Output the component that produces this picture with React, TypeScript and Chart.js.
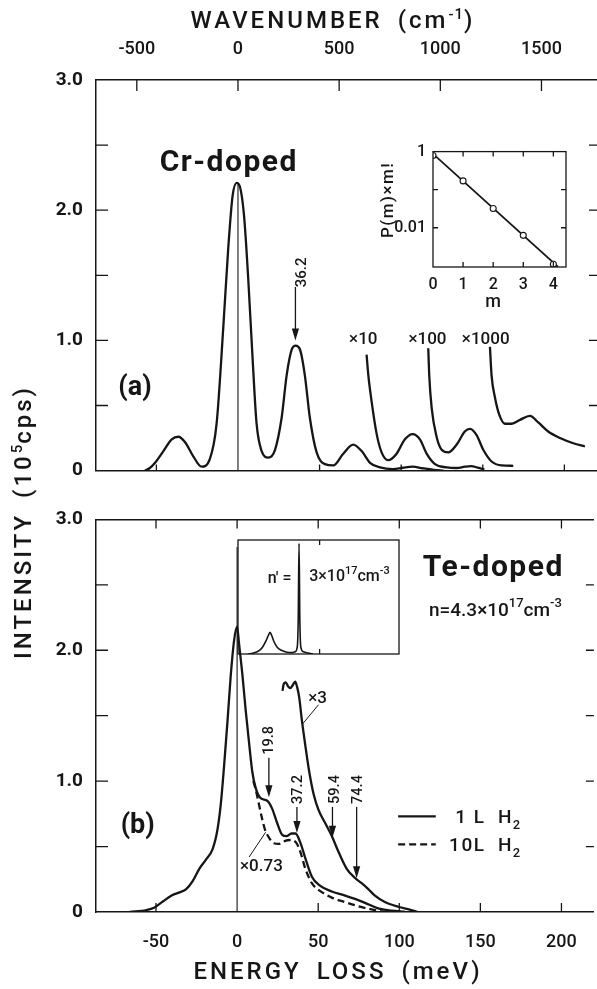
import React, { useEffect, useRef } from 'react';
import { Chart, registerables } from 'chart.js';

Chart.register(...registerables);

// ---------------- axes ----------------
const MEV_TO_CM = 8.06554;
const E_MIN = -87;
const E_MAX = 220;
const energyTicks = [-50, 0, 50, 100, 150, 200];
const wavenumberTicks = [-500, 0, 500, 1000, 1500];
const intensityTicks = [0, 0.5, 1, 1.5, 2, 2.5, 3];
const intensityLabels = ['0', '', '1.0', '', '2.0', '', '3.0'];
const mTicks = [0, 1, 2, 3, 4];
const pTicks = [0.001, 0.01, 0.1, 1];
const pTickLabels = ['', '0.01', '', '1'];
const insetTicks = [50];

// ---------------- panel (a): Cr-doped ----------------
const crEnergy = [-57, -54, -50.8, -45.7, -40.6, -36.5, -32.5, -27.4, -22.3, -17.2, -13.1, -9.0, -5.9, -3.3, -0.8, 1.2, 3.7, 6.3, 9.0, 11.4, 14.5, 18.6, 22.7, 26.8, 29.8, 32.9, 35.3, 38, 41, 44, 48.2, 53.3, 58.4, 64.5, 70.6, 75.8, 80.9, 87, 95, 101, 107, 113, 120, 126];
const crIntensity = [0, 0.02, 0.06, 0.15, 0.24, 0.26, 0.22, 0.11, 0.03, 0.09, 0.36, 1.10, 1.72, 2.11, 2.21, 2.18, 1.96, 1.47, 0.85, 0.36, 0.15, 0.10, 0.16, 0.41, 0.73, 0.93, 0.96, 0.93, 0.73, 0.41, 0.14, 0.05, 0.04, 0.13, 0.20, 0.15, 0.06, 0.025, 0.012, 0.022, 0.03, 0.018, 0.006, 0];
const crX10Energy = [78.8, 79.9, 81.9, 85, 88, 92, 97.2, 102.3, 107, 111.5, 115.6, 120.7, 127.9, 134, 139, 143, 147, 151];
const crX10Intensity = [0.89, 0.73, 0.53, 0.28, 0.14, 0.08, 0.13, 0.24, 0.28, 0.24, 0.13, 0.05, 0.025, 0.02, 0.03, 0.035, 0.022, 0.01];
const crX100Energy = [116.6, 117.2, 118.7, 121.7, 124.8, 128.9, 134, 139, 142.2, 146.3, 150.3, 155.4, 161.6, 168.7];
const crX100Intensity = [0.94, 0.73, 0.48, 0.26, 0.16, 0.14, 0.20, 0.30, 0.32, 0.27, 0.16, 0.07, 0.04, 0.037];
const crX1000Energy = [154.4, 155.4, 157.5, 160.1, 163.6, 167.7, 172.8, 178.9, 184, 190.1, 197.3, 205.5, 212.6];
const crX1000Intensity = [0.95, 0.73, 0.56, 0.43, 0.36, 0.36, 0.39, 0.42, 0.37, 0.30, 0.25, 0.21, 0.185];

// inset of (a): P(m) x m!
const mValues = [0, 1, 2, 3, 4];
const pValues = [0.79, 0.17, 0.032, 0.0063, 0.0011];
const fitM = [0, 4.15];
const fitP = [0.87, 0.00095];

// ---------------- panel (b): Te-doped ----------------
const teSolidEnergy = [-66.2, -56, -50.9, -45.8, -40.6, -35.5, -31.4, -27.4, -23.3, -19.2, -15.1, -12.1, -10.0, -8.0, -5.9, -3.9, -1.8, 0, 1.2, 3.3, 5.3, 7.4, 9.4, 11.4, 14.5, 18.6, 21.6, 24.7, 27.8, 30.5, 33.5, 36, 39, 42.1, 46.1, 51.3, 58.4, 66.6, 72.7, 78.9, 87, 95.2, 103.4];
const teSolidIntensity = [0, 0.015, 0.035, 0.08, 0.125, 0.15, 0.175, 0.236, 0.33, 0.40, 0.48, 0.63, 0.83, 1.12, 1.46, 1.81, 2.08, 2.18, 2.05, 1.81, 1.54, 1.29, 1.07, 0.95, 0.87, 0.85, 0.79, 0.68, 0.59, 0.58, 0.60, 0.60, 0.53, 0.41, 0.27, 0.20, 0.157, 0.125, 0.10, 0.07, 0.027, 0.01, 0.002];
const teX3Energy = [28, 28.8, 30, 31.4, 32.8, 34.4, 35.8, 37, 38.3, 40, 42.1, 44.5, 47.2, 50.2, 54.3, 58.4, 62.5, 67.6, 72.7, 76.8, 80.9, 85, 91.1, 99.3, 107.4, 111.5];
const teX3Intensity = [1.69, 1.745, 1.755, 1.725, 1.71, 1.735, 1.76, 1.72, 1.64, 1.46, 1.27, 1.07, 0.90, 0.78, 0.68, 0.58, 0.46, 0.33, 0.26, 0.22, 0.175, 0.125, 0.076, 0.04, 0.015, 0];
const teDashedEnergy = [10, 11.4, 13, 15.1, 17.2, 19.6, 22.7, 25.7, 28.8, 32.9, 36.4, 39, 42.1, 46.1, 51.3, 58.4, 66.6, 74.8, 82.9, 91.1];
const teDashedIntensity = [1.0, 0.94, 0.85, 0.73, 0.63, 0.57, 0.525, 0.52, 0.54, 0.55, 0.53, 0.46, 0.33, 0.22, 0.16, 0.11, 0.076, 0.044, 0.02, 0];

// inset of (b): spectrum for n' = 3e17 cm^-3
const insetEnergy = [6, 10, 13, 15, 17, 18.5, 19.6, 20.7, 22, 24, 27, 30, 33, 35, 36.3, 36.9, 37.4, 37.9, 38.5, 40, 43, 46];
const insetIntensity = [0, 0.01, 0.03, 0.06, 0.11, 0.16, 0.19, 0.16, 0.11, 0.06, 0.03, 0.015, 0.012, 0.02, 0.06, 0.3, 0.97, 0.3, 0.06, 0.02, 0.008, 0];

// peak markers
const bPeakLabels = ['19.8', '37.2', '59.4', '74.4'];
const bPeakEnergy = [19.6, 36.9, 58.8, 73.7];

// ---------------- helpers ----------------
const INK = '#161616';
const FONT = 'Roboto, "DejaVu Sans", Arial, sans-serif';

const pts = (E: number[], I: number[]) => E.map((x, i) => ({ x, y: I[i] }));

function curve(E: number[], I: number[], extra: any = {}) {
  return {
    data: pts(E, I),
    showLine: true,
    borderColor: INK,
    backgroundColor: INK,
    borderWidth: 2.3,
    pointRadius: 0,
    pointHoverRadius: 0,
    fill: false,
    tension: 0.4,
    cubicInterpolationMode: 'monotone',
    ...extra,
  };
}

const fixedTicks = (values: number[]) => (scale: any) => {
  scale.ticks = values.map((v) => ({ value: v }));
};

function inwardTicks(ctx: any, a: any, scale: any, side: string, len: number, skip: number[] = []) {
  ctx.beginPath();
  for (const t of scale.ticks) {
    if (skip.includes(t.value)) continue;
    const p = scale.getPixelForValue(t.value);
    if (side === 'left') { ctx.moveTo(a.left, p); ctx.lineTo(a.left + len, p); }
    if (side === 'right') { ctx.moveTo(a.right, p); ctx.lineTo(a.right - len, p); }
    if (side === 'top') { ctx.moveTo(p, a.top); ctx.lineTo(p, a.top + len); }
    if (side === 'bottom') { ctx.moveTo(p, a.bottom); ctx.lineTo(p, a.bottom - len); }
  }
  ctx.stroke();
}

function seg(ctx: any, x1: number, y1: number, x2: number, y2: number) {
  ctx.beginPath();
  ctx.moveTo(x1, y1);
  ctx.lineTo(x2, y2);
  ctx.stroke();
}

function arrowDown(ctx: any, x: number, y1: number, y2: number) {
  seg(ctx, x, y1, x, y2 - 8);
  ctx.beginPath();
  ctx.moveTo(x, y2);
  ctx.lineTo(x - 3.6, y2 - 12);
  ctx.lineTo(x + 3.6, y2 - 12);
  ctx.closePath();
  ctx.fill();
}

type Run = [string, number];
// y = vertical middle of capitals
function rich(ctx: any, runs: Run[], x: number, y: number, size: number, weight = 'normal', align = 'center', spacing = 0) {
  const fontFor = (k: number) => `${weight} ${k === 0 ? size : Math.round(size * 0.66)}px ${FONT}`;
  ctx.save();
  ctx.textAlign = 'left';
  ctx.textBaseline = 'alphabetic';
  ctx.letterSpacing = `${spacing}px`;
  let w = 0;
  for (const [s, k] of runs) { ctx.font = fontFor(k); w += ctx.measureText(s).width; }
  w -= spacing;
  let cx = align === 'left' ? x : align === 'center' ? x - w / 2 : x - w;
  const base = y + size * 0.355;
  for (const [s, k] of runs) {
    ctx.font = fontFor(k);
    const dy = k === 1 ? -size * 0.45 : k === -1 ? size * 0.28 : 0;
    ctx.fillText(s, cx, base + dy);
    cx += ctx.measureText(s).width;
  }
  ctx.restore();
}

function vText(ctx: any, s: string, x: number, y: number, size: number) {
  ctx.save();
  ctx.translate(x, y);
  ctx.rotate(-Math.PI / 2);
  rich(ctx, [[s, 0]], 0, 0, size, '500', 'center');
  ctx.restore();
}

const baseOptions = {
  animation: false,
  responsive: false,
  maintainAspectRatio: false,
  events: [],
  layout: { padding: 0 },
  plugins: { legend: { display: false }, tooltip: { enabled: false }, title: { display: false } },
};

const border = { display: true, color: INK, width: 1.5 };
const noGrid = { display: false, drawTicks: false };
const xTickFont = { family: FONT, size: 18, weight: '500' };
const yTickFont = { family: FONT, size: 19, weight: 'bold' };

// ---------------- panel (a) ----------------
const panelADecor = {
  id: 'panelADecor',
  afterDraw(chart: any) {
    const { ctx, chartArea: a } = chart;
    const sx = chart.scales.x, sy = chart.scales.y, st = chart.scales.xTop;
    const X = (v: number) => sx.getPixelForValue(v);
    const Y = (v: number) => sy.getPixelForValue(v);
    ctx.save();
    ctx.strokeStyle = INK;
    ctx.fillStyle = INK;
    ctx.lineWidth = 1.3;
    inwardTicks(ctx, a, sy, 'left', 12, [0, 3]);
    inwardTicks(ctx, a, sy, 'right', 8, [0, 3]);
    inwardTicks(ctx, a, st, 'top', 11);
    inwardTicks(ctx, a, sx, 'bottom', 6, [0]);
    ctx.lineWidth = 1.1;
    seg(ctx, X(0), Y(0), X(0), Y(2.2));
    ctx.lineWidth = 1.3;
    arrowDown(ctx, X(35.2), Y(1.41), Y(1.0));
    vText(ctx, '36.2', X(38.6), Y(1.522), 15);
    rich(ctx, [['Cr-doped', 0]], X(-6.1), Y(2.385), 30, 'bold', 'center', 1.5);
    rich(ctx, [['(a)', 0]], X(-63.1), Y(0.652), 27, 'bold', 'center');
    rich(ctx, [['×10', 0]], X(76.8), Y(1.019), 17, '500', 'center');
    rich(ctx, [['×100', 0]], X(116.1), Y(1.019), 17, '500', 'center');
    rich(ctx, [['×1000', 0]], X(151.8), Y(1.019), 17, '500', 'center');
    ctx.restore();
  },
};

function makePanelA(canvas: HTMLCanvasElement) {
  return new Chart(canvas, {
    type: 'scatter',
    data: {
      datasets: [
        curve(crEnergy, crIntensity),
        curve(crX10Energy, crX10Intensity),
        curve(crX100Energy, crX100Intensity),
        curve(crX1000Energy, crX1000Intensity),
      ],
    },
    options: {
      ...baseOptions,
      scales: {
        x: {
          type: 'linear', position: 'bottom', min: E_MIN, max: E_MAX,
          afterBuildTicks: fixedTicks(energyTicks),
          ticks: { display: false },
          grid: noGrid, border,
          afterFit: (s: any) => { s.height = 10; },
        },
        xTop: {
          type: 'linear', position: 'top', min: E_MIN * MEV_TO_CM, max: E_MAX * MEV_TO_CM,
          afterBuildTicks: fixedTicks(wavenumberTicks),
          ticks: { color: INK, font: xTickFont, padding: 20, autoSkip: false, maxRotation: 0, callback: (v: any) => String(v) },
          grid: noGrid, border,
          afterFit: (s: any) => { s.height = 80; },
        },
        y: {
          type: 'linear', min: 0, max: 3,
          afterBuildTicks: fixedTicks(intensityTicks),
          ticks: { color: INK, font: yTickFont, padding: 13, autoSkip: false, callback: (_v: any, i: number) => intensityLabels[i] },
          grid: noGrid, border,
          afterFit: (s: any) => { s.width = 96; },
        },
      },
    } as any,
    plugins: [panelADecor],
  } as any);
}

// ---------------- inset (a) ----------------
const insetADecor = {
  id: 'insetADecor',
  afterDraw(chart: any) {
    const { ctx, chartArea: a } = chart;
    const sx = chart.scales.x, sy = chart.scales.y;
    ctx.save();
    ctx.strokeStyle = INK;
    ctx.fillStyle = INK;
    ctx.lineWidth = 1.3;
    ctx.strokeRect(a.left, a.top, a.right - a.left, a.bottom - a.top);
    inwardTicks(ctx, a, sy, 'left', 5, [1, 0.001]);
    inwardTicks(ctx, a, sy, 'right', 5, [1, 0.001]);
    inwardTicks(ctx, a, sx, 'top', 5, [0]);
    inwardTicks(ctx, a, sx, 'bottom', 5, [0]);
    ctx.save();
    ctx.translate(a.left - 46, a.top + 49);
    ctx.rotate(-Math.PI / 2);
    rich(ctx, [['P(m)×m!', 0]], 0, 0, 17, '500', 'center', 1.5);
    ctx.restore();
    rich(ctx, [['m', 0]], sx.getPixelForValue(2), a.bottom + 34, 18, '500', 'center');
    ctx.restore();
  },
};

function makeInsetA(canvas: HTMLCanvasElement) {
  return new Chart(canvas, {
    type: 'scatter',
    data: {
      datasets: [
        { data: pts(mValues, pValues), pointRadius: 3, pointStyle: 'circle', backgroundColor: '#fff', borderColor: INK, borderWidth: 1.1, showLine: false },
        curve(fitM, fitP, { borderWidth: 1.8, cubicInterpolationMode: 'default', tension: 0 }),
      ],
    },
    options: {
      ...baseOptions,
      layout: { padding: { top: 14, right: 9, left: 0, bottom: 0 } },
      scales: {
        x: {
          type: 'linear', min: 0, max: 4.42,
          afterBuildTicks: fixedTicks(mTicks),
          ticks: { color: INK, font: { family: FONT, size: 16, weight: '500' }, padding: 8, autoSkip: false, maxRotation: 0, callback: (v: any) => String(v) },
          grid: noGrid, border: { display: false },
          afterFit: (s: any) => { s.height = 48; },
        },
        y: {
          type: 'logarithmic', min: 0.00093, max: 1,
          afterBuildTicks: fixedTicks(pTicks),
          ticks: { color: INK, font: { family: FONT, size: 16, weight: '500' }, padding: 7, autoSkip: false, callback: (_v: any, i: number) => pTickLabels[i] },
          grid: noGrid, border: { display: false },
          afterFit: (s: any) => { s.width = 63; },
        },
      },
    } as any,
    plugins: [insetADecor],
  } as any);
}

// ---------------- panel (b) ----------------
const panelBDecor = {
  id: 'panelBDecor',
  afterDraw(chart: any) {
    const { ctx, chartArea: a } = chart;
    const sx = chart.scales.x, sy = chart.scales.y;
    const X = (v: number) => sx.getPixelForValue(v);
    const Y = (v: number) => sy.getPixelForValue(v);
    ctx.save();
    ctx.strokeStyle = INK;
    ctx.fillStyle = INK;
    ctx.lineWidth = 1.3;
    inwardTicks(ctx, a, sy, 'left', 12, [0, 3]);
    inwardTicks(ctx, a, sy, 'right', 8, [0, 3]);
    inwardTicks(ctx, a, sx, 'top', 9);
    inwardTicks(ctx, a, sx, 'bottom', 9, [0]);
    ctx.lineWidth = 1.1;
    seg(ctx, X(0), Y(0), X(0), Y(2.79));
    ctx.lineWidth = 1.3;
    const tips = [0.877, 0.604, 0.567, 0.258];
    const tails = [1.179, 0.803, 0.803, 0.803];
    const textV = [1.312, 0.936, 0.936, 0.936];
    const textE = [19.0, 37.1, 59.4, 74.1];
    bPeakLabels.forEach((lab, i) => {
      arrowDown(ctx, X(bPeakEnergy[i]), Y(tails[i]), Y(tips[i]));
      vText(ctx, lab, X(textE[i]), Y(textV[i]), 14.5);
    });
    // multiplier labels with leader lines
    ctx.lineWidth = 1;
    seg(ctx, X(50.2), Y(1.584), X(40.4), Y(1.437));
    seg(ctx, X(7.4), Y(0.42), X(17.6), Y(0.609));
    rich(ctx, [['×3', 0]], X(49.6), Y(1.64), 17, '500', 'center');
    rich(ctx, [['×0.73', 0]], X(15.0), Y(0.361), 17, '500', 'center');
    // legend
    ctx.lineWidth = 2.3;
    seg(ctx, X(99.3), Y(0.73), X(122.5), Y(0.73));
    ctx.setLineDash([7, 4]);
    seg(ctx, X(99.3), Y(0.516), X(122.5), Y(0.516));
    ctx.setLineDash([]);
    rich(ctx, [['1 L  H', 0], ['2', -1]], X(174.6), Y(0.73), 19, '500', 'right', 1.5);
    rich(ctx, [['10L  H', 0], ['2', -1]], X(174.6), Y(0.516), 19, '500', 'right', 1.5);
    // titles
    rich(ctx, [['Te-doped', 0]], X(157.5), Y(2.646), 30, 'bold', 'center', 1.5);
    rich(ctx, [['n=4.3×10', 0], ['17', 1], ['cm', 0], ['-3', 1]], X(159.3), Y(2.314), 19, '500', 'center');
    rich(ctx, [['(b)', 0]], X(-61.3), Y(0.678), 27, 'bold', 'center');
    ctx.restore();
  },
};

function makePanelB(canvas: HTMLCanvasElement) {
  return new Chart(canvas, {
    type: 'scatter',
    data: {
      datasets: [
        curve(teSolidEnergy, teSolidIntensity),
        curve(teX3Energy, teX3Intensity),
        curve(teDashedEnergy, teDashedIntensity, { borderDash: [7, 4] }),
      ],
    },
    options: {
      ...baseOptions,
      scales: {
        x: {
          type: 'linear', position: 'bottom', min: E_MIN, max: E_MAX,
          afterBuildTicks: fixedTicks(energyTicks),
          ticks: { color: INK, font: xTickFont, padding: 20, autoSkip: false, maxRotation: 0, callback: (v: any) => String(v) },
          grid: noGrid, border,
          afterFit: (s: any) => { s.height = 77; },
        },
        xTop: {
          type: 'linear', position: 'top', min: E_MIN, max: E_MAX,
          ticks: { display: false },
          grid: noGrid, border,
          afterFit: (s: any) => { s.height = 10; },
        },
        y: {
          type: 'linear', min: 0, max: 3,
          afterBuildTicks: fixedTicks(intensityTicks),
          ticks: { color: INK, font: yTickFont, padding: 13, autoSkip: false, callback: (_v: any, i: number) => intensityLabels[i] },
          grid: noGrid, border,
          afterFit: (s: any) => { s.width = 96; },
        },
      },
    } as any,
    plugins: [panelBDecor],
  } as any);
}

// ---------------- inset (b) ----------------
const insetBDecor = {
  id: 'insetBDecor',
  afterDraw(chart: any) {
    const { ctx, chartArea: a } = chart;
    const sx = chart.scales.x, sy = chart.scales.y;
    ctx.save();
    ctx.strokeStyle = INK;
    ctx.fillStyle = INK;
    ctx.lineWidth = 1.3;
    ctx.strokeRect(a.left, a.top, a.right - a.left, a.bottom - a.top);
    ctx.beginPath();
    for (const v of insetTicks) {
      const p = sx.getPixelForValue(v);
      ctx.moveTo(p, a.top); ctx.lineTo(p, a.top + 5);
      ctx.moveTo(p, a.bottom); ctx.lineTo(p, a.bottom - 5);
    }
    ctx.stroke();
    rich(ctx, [["n' =", 0]], sx.getPixelForValue(25.5), sy.getPixelForValue(0.675), 16, '500', 'center');
    rich(ctx, [['3×10', 0], ['17', 1], ['cm', 0], ['-3', 1]], sx.getPixelForValue(68.3), sy.getPixelForValue(0.69), 16, '500', 'center');
    ctx.restore();
  },
};

function makeInsetB(canvas: HTMLCanvasElement) {
  return new Chart(canvas, {
    type: 'scatter',
    data: { datasets: [curve(insetEnergy, insetIntensity, { borderWidth: 1.6 })] },
    options: {
      ...baseOptions,
      layout: { padding: { left: 2, top: 2, right: 3, bottom: 4 } },
      scales: {
        x: { type: 'linear', display: false, min: 0, max: 98.65 },
        y: { type: 'linear', display: false, min: 0, max: 1 },
      },
    } as any,
    plugins: [insetBDecor],
  } as any);
}

const titleStyle: any = {
  position: 'absolute',
  fontFamily: FONT,
  fontSize: 24,
  fontWeight: 500,
  letterSpacing: '3px',
  wordSpacing: '6px',
  color: INK,
  whiteSpace: 'nowrap',
  lineHeight: '26px',
};

const supStyle: any = { fontSize: 15, verticalAlign: 'super', lineHeight: 0, letterSpacing: '1px' };

export default function App() {
  const aRef = useRef<HTMLCanvasElement>(null);
  const bRef = useRef<HTMLCanvasElement>(null);
  const iaRef = useRef<HTMLCanvasElement>(null);
  const ibRef = useRef<HTMLCanvasElement>(null);

  useEffect(() => {
    const charts = [
      makePanelA(aRef.current!),
      makePanelB(bRef.current!),
      makeInsetA(iaRef.current!),
      makeInsetB(ibRef.current!),
    ];
    return () => charts.forEach((c) => c.destroy());
  }, []);

  return (
    <div style={{ position: 'absolute', left: 0, top: 0, width: 597, height: 989, overflow: 'hidden', background: '#fff' }}>
      <canvas ref={aRef} width={597} height={495} style={{ position: 'absolute', left: 0, top: 0 }} />
      <canvas ref={bRef} width={597} height={494} style={{ position: 'absolute', left: 0, top: 495 }} />
      <canvas ref={iaRef} width={205} height={180} style={{ position: 'absolute', left: 370, top: 135 }} />
      <canvas ref={ibRef} width={166} height={120} style={{ position: 'absolute', left: 236, top: 538 }} />
      <div style={{ ...titleStyle, left: 333, top: 7, transform: 'translateX(-50%)' }}>
        WAVENUMBER (cm<sup style={supStyle}>-1</sup>)
      </div>
      <div style={{ ...titleStyle, left: 338, top: 958, transform: 'translateX(-50%)' }}>
        ENERGY LOSS (meV)
      </div>
      <div style={{ ...titleStyle, left: 23, top: 522, transform: 'translate(-50%, -50%) rotate(-90deg)' }}>
        INTENSITY (10<sup style={supStyle}>5</sup>cps)
      </div>
    </div>
  );
}
